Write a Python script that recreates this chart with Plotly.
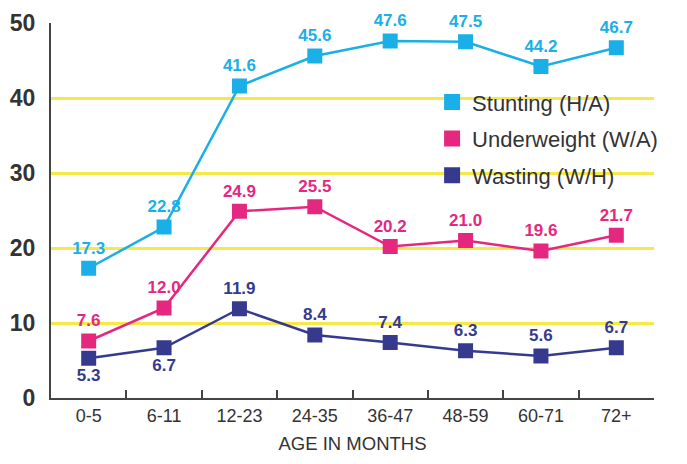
import plotly.graph_objects as go

categories = ["0-5", "6-11", "12-23", "24-35", "36-47", "48-59", "60-71", "72+"]
stunting = [17.3, 22.8, 41.6, 45.6, 47.6, 47.5, 44.2, 46.7]
underweight = [7.6, 12.0, 24.9, 25.5, 20.2, 21.0, 19.6, 21.7]
wasting = [5.3, 6.7, 11.9, 8.4, 7.4, 6.3, 5.6, 6.7]
names = ["Stunting (H/A)", "Underweight (W/A)", "Wasting (W/H)"]
colors = ["#1AAFE6", "#E5287F", "#353A8F"]

series = [stunting, underweight, wasting]
positions = [
    ["top center"] * 8,
    ["top center"] * 8,
    ["bottom center", "bottom center"] + ["top center"] * 6,
]

fig = go.Figure()
for vals, col, pos in zip(series, colors, positions):
    fig.add_trace(go.Scatter(
        x=categories, y=vals, mode="lines+markers+text",
        line=dict(color=col, width=2.5),
        marker=dict(symbol="square", size=15, color=col),
        text=[f"{v:.1f}" for v in vals], textposition=pos,
        textfont=dict(color=col, size=17, family="Liberation Sans", weight="bold"),
        showlegend=False, cliponaxis=False,
    ))
for i, (nm, col) in enumerate(zip(names, colors)):
    fig.add_trace(go.Scatter(
        x=[None], y=[None], mode="markers", name=nm,
        marker=dict(symbol="square", size=16, color=col),
        legendgroup=f"g{i}",
    ))

fig.update_layout(
    width=687, height=464,
    margin=dict(l=43, r=41, t=15, b=74),
    paper_bgcolor="white", plot_bgcolor="white",
    font=dict(family="Liberation Sans", color="#333333"),
    legend=dict(x=0.632, y=0.845, xanchor="left", yanchor="top",
                font=dict(size=22, color="#333333"),
                bgcolor="rgba(255,255,255,0)", tracegroupgap=5,
                traceorder="grouped", itemwidth=30),
    xaxis=dict(
        type="category", range=[-0.5, 7.5], tickson="boundaries",
        ticks="inside", ticklen=8, tickwidth=2, tickcolor="#444444",
        showline=True, linecolor="#444444", linewidth=2, showgrid=False,
        tickfont=dict(size=18, color="#333333"), automargin=False,
        title=dict(text="AGE IN MONTHS", font=dict(size=18.5, color="#333333"), standoff=12),
    ),
    yaxis=dict(
        range=[0, 50], tickvals=[0, 10, 20, 30, 40, 50], automargin=False,
        showline=True, linecolor="#444444", linewidth=2,
        showgrid=True, gridcolor="#F4E948", gridwidth=2.5, zeroline=False,
        tickfont=dict(size=23, color="#333333", weight="bold"),
        ticks="", ticklabelstandoff=9,
    ),
)

fig.write_html("out.html")
